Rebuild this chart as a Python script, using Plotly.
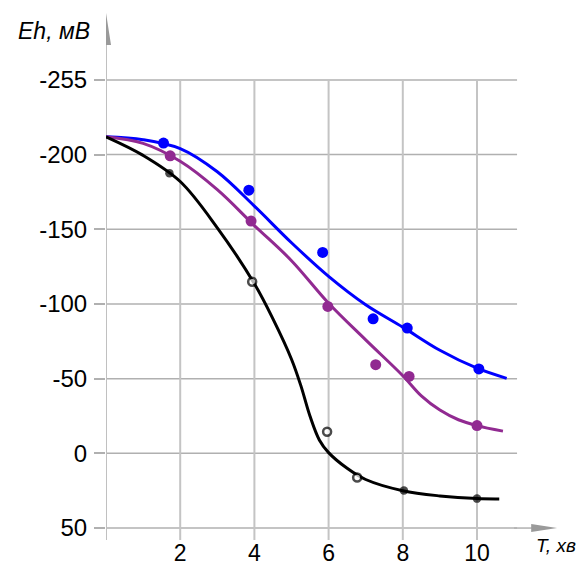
import plotly.graph_objects as go

# ---- data ----
x_ticks = [2, 4, 6, 8, 10]
y_tickvals = [-250, -200, -150, -100, -50, 0, 50]
y_ticktext = ["-255", "-200", "-150", "-100", "-50", "0", "50"]

blue_pts_x = [1.55, 3.85, 5.84, 7.20, 8.12, 10.05]
blue_pts_y = [-207.7, -176.2, -134.5, -90.1, -83.9, -56.5]
purple_pts_x = [1.73, 3.91, 5.98, 7.27, 8.17, 10.0]
purple_pts_y = [-199.2, -155.5, -98.4, -59.4, -51.5, -18.6]
black_pts_x = [1.71, 3.94, 5.96, 6.77, 8.03, 10.0]
black_pts_y = [-187.6, -114.9, -14.5, 16.2, 24.9, 30.3]
black_pts_filled = [True, False, False, False, True, True]

blue_curve_x = [0, 1, 2, 3, 4, 5, 6, 7, 8, 9, 10, 10.8]
blue_curve_y = [-211.9, -210.0, -204.0, -188.5, -165.5, -141.0, -118.5, -99.5, -84.5, -69.0, -57.0, -50.2]
purple_curve_x = [0, 1, 2, 3, 4, 5, 6, 7, 8, 8.5, 9, 9.5, 10, 10.7]
purple_curve_y = [-211.9, -207.5, -195.5, -176.5, -152.5, -129.0, -100.5, -76.0, -52.0, -38.5, -29.0, -22.5, -18.6, -14.9]
black_curve_x = [0, 1, 2, 3, 4, 4.5, 5, 5.25, 5.5, 5.75, 6, 6.5, 7, 8, 9, 10, 10.6]
black_curve_y = [-211.9, -199.5, -182.0, -151.0, -113.5, -90.0, -63.0, -45.5, -24.8, -9.0, -0.5, 10.0, 17.5, 25.0, 28.5, 30.3, 30.5]

# ---- style ----
BLUE = "#0000ff"
PURPLE = "#912a91"
BLACK = "#000000"
GRID = "#b0b0b0"
VGRID = "#c4c4c4"
ARROW = "#9a9a9a"
FONT = "Liberation Sans, Arial, sans-serif"

X_MAX = 12.507
Y_TOP = -294.8
Y_BOT = 58.0

fig = go.Figure()

for cx, cy, col in [(blue_curve_x, blue_curve_y, BLUE),
                    (purple_curve_x, purple_curve_y, PURPLE),
                    (black_curve_x, black_curve_y, BLACK)]:
    fig.add_trace(go.Scatter(x=cx, y=cy, mode="lines",
                             line=dict(color=col, width=3, shape="spline", smoothing=1.0),
                             hoverinfo="skip", showlegend=False))

fig.add_trace(go.Scatter(x=blue_pts_x, y=blue_pts_y, mode="markers",
                         marker=dict(color=BLUE, size=11), showlegend=False))
fig.add_trace(go.Scatter(x=purple_pts_x, y=purple_pts_y, mode="markers",
                         marker=dict(color=PURPLE, size=11), showlegend=False))
fig.add_trace(go.Scatter(x=black_pts_x, y=black_pts_y, mode="markers",
                         marker=dict(color=[BLACK if f else "white" for f in black_pts_filled],
                                     size=[8.5 if f else 8 for f in black_pts_filled],
                                     line=dict(color=BLACK, width=[0 if f else 2.5 for f in black_pts_filled])),
                         showlegend=False))

shapes = []
for yv in y_tickvals:
    shapes.append(dict(type="line", xref="x", yref="y", x0=0, x1=11.08, y0=yv, y1=yv,
                       line=dict(color=GRID, width=1.5), layer="below"))
for xv in x_ticks:
    shapes.append(dict(type="line", xref="x", yref="y", x0=xv, x1=xv, y0=-250, y1=Y_BOT,
                       line=dict(color=VGRID, width=2), layer="below"))
shapes.append(dict(type="line", xref="x", yref="y", x0=0, x1=0, y0=Y_BOT, y1=-274,
                   line=dict(color="#c0c0c0", width=2), layer="below"))
shapes.append(dict(type="line", xref="x", yref="y", x0=11.0, x1=11.5, y0=50, y1=50,
                   line=dict(color=GRID, width=1.5), layer="below"))
shapes.append(dict(type="path", xref="x", yref="y",
                   path="M -0.135,-273.4 L 0,-294.8 L 0.135,-273.4 Z",
                   fillcolor=ARROW, line=dict(width=0)))
shapes.append(dict(type="path", xref="x", yref="y",
                   path="M 11.46,47.3 L 12.16,50 L 11.46,52.7 Z",
                   fillcolor=ARROW, line=dict(width=0)))

annotations = [
    dict(text="<i>Eh, мВ</i>", xref="paper", yref="paper", x=-0.0302, y=0.9658,
         xanchor="right", yanchor="middle", showarrow=False,
         font=dict(family=FONT, size=23, color="black")),
    dict(text="<i>T, хв</i>", xref="paper", yref="paper", x=1.015, y=-0.0095,
         xanchor="right", yanchor="middle", showarrow=False, borderpad=0,
         font=dict(family=FONT, size=19, color="black")),
]

# page body has an 8px margin; compensate so the plot area sits where the reference has it
fig.update_layout(
    width=579, height=557,
    margin=dict(l=98, r=17, t=5, b=25, pad=0),
    paper_bgcolor="white", plot_bgcolor="white",
    shapes=shapes, annotations=annotations,
    font=dict(family=FONT, size=24, color="black"),
    xaxis=dict(range=[0, X_MAX], showgrid=False, zeroline=False, showline=False,
               tickvals=x_ticks, ticktext=[str(v) for v in x_ticks], ticks="",
               automargin=False, ticklabelstandoff=-3,
               tickfont=dict(family=FONT, size=23, color="black")),
    yaxis=dict(range=[Y_BOT, Y_TOP], showgrid=False, zeroline=False, showline=False,
               tickvals=y_tickvals, ticktext=y_ticktext, ticks="outside", ticklen=11,
               tickcolor=GRID, tickwidth=1.5, ticklabelstandoff=2, automargin=False,
               tickfont=dict(family=FONT, size=24, color="black")),
    showlegend=False,
)

fig.write_html("out.html")
